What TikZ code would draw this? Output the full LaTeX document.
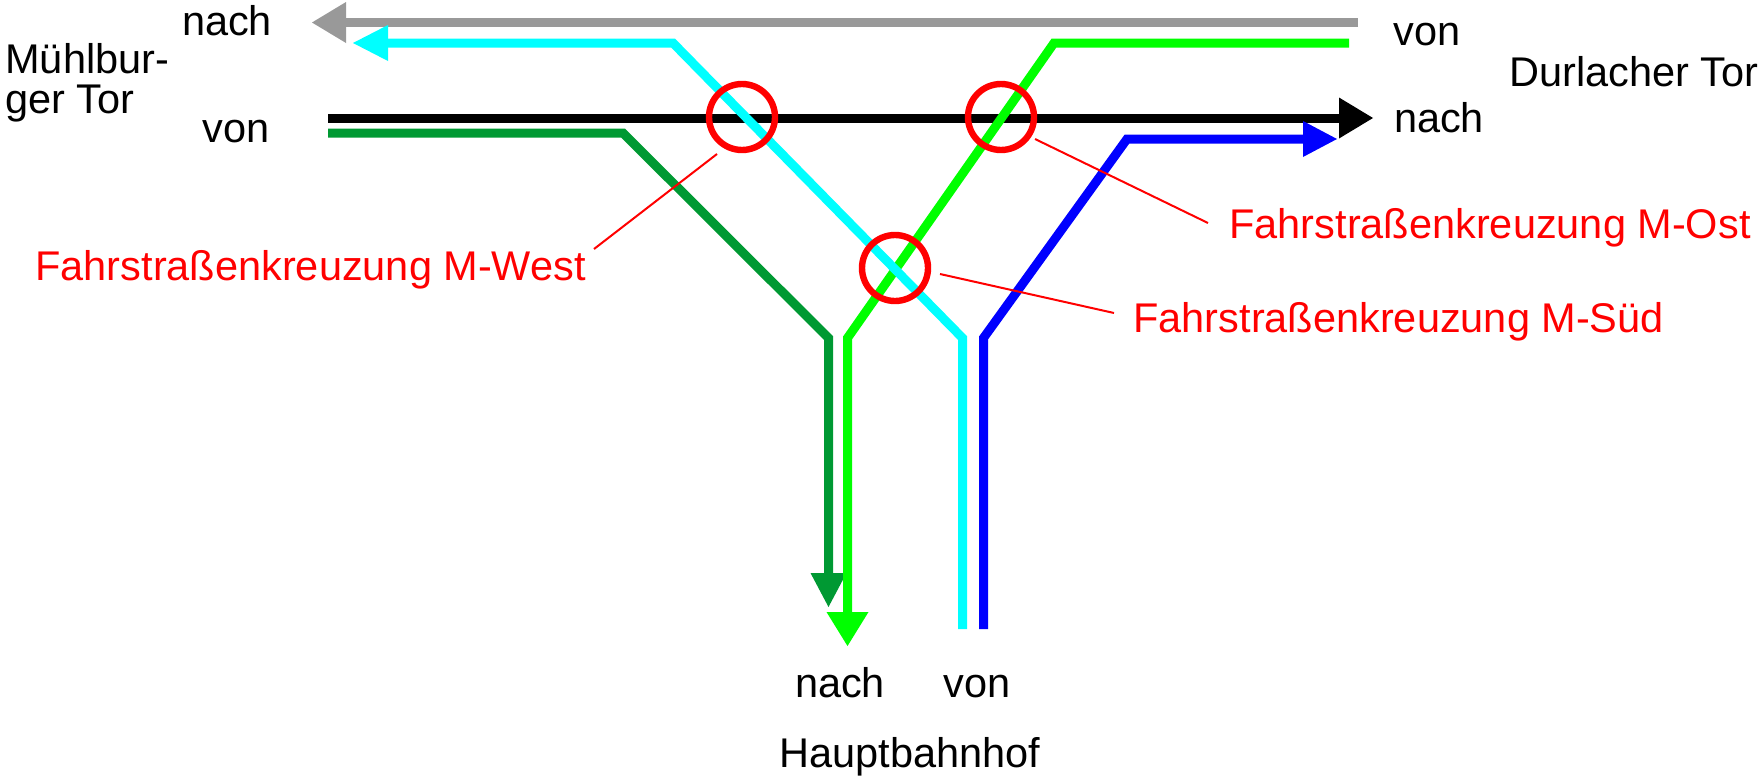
\documentclass[tikz,border=0pt]{standalone}
\usepackage{fontspec}
\setmainfont{Liberation Sans}
\usetikzlibrary{arrows.meta}
\definecolor{cgray}{HTML}{999999}
\definecolor{ccyan}{HTML}{00FFFF}
\definecolor{cgreen}{HTML}{00FF00}
\definecolor{cdgreen}{HTML}{009933}
\definecolor{cblue}{HTML}{0000FF}
\definecolor{cred}{HTML}{FF0000}
\begin{document}
\begin{tikzpicture}[x=0.5pt,y=-0.5pt,
  route/.style={line width=4.5pt, line join=miter},
  lbl/.style={inner sep=0pt, anchor=base, font=\fontsize{20.75pt}{24pt}\selectfont},
  lblw/.style={lbl, anchor=base west},
  redlbl/.style={lblw, text=cred},
  xing/.style={circle, draw=cred, line width=3.2pt, minimum size=33pt, inner sep=0pt},
  leader/.style={draw=cred, line width=1pt}]
\useasboundingbox (0,0) rectangle (1762,777);
% route points
\coordinate (g1) at (1358,22.5);
\coordinate (g2) at (312,22.5);
\coordinate (k1) at (328,118);
\coordinate (k2) at (1373,118);
\coordinate (d1) at (328,133);
\coordinate (d2) at (623,133);
\coordinate (d3) at (828.5,338);
\coordinate (d4) at (828.5,607);
\coordinate (l1) at (1349,43);
\coordinate (l2) at (1054,43);
\coordinate (l3) at (847.5,338);
\coordinate (l4) at (847.5,646);
\coordinate (b1) at (983.5,629);
\coordinate (b2) at (983.5,338);
\coordinate (b3) at (1127,139);
\coordinate (b4) at (1337,139);
\coordinate (c1) at (962.5,629);
\coordinate (c2) at (962.5,338);
\coordinate (c3) at (673,43);
\coordinate (c4) at (353,43);
% routes
\draw[route, cgray, -{Triangle[length=17pt,width=20.5pt,line width=0pt]}] (g1) -- (g2);
\draw[route, black, -{Triangle[length=17pt,width=20.5pt,line width=0pt]}] (k1) -- (k2);
\draw[route, cdgreen, -{Triangle[length=17pt,width=18pt,line width=0pt]}] (d1) -- (d2) -- (d3) -- (d4);
\draw[route, cgreen, -{Triangle[length=17pt,width=21pt,line width=0pt]}] (l1) -- (l2) -- (l3) -- (l4);
\draw[route, cblue, -{Triangle[length=17pt,width=18pt,line width=0pt]}] (b1) -- (b2) -- (b3) -- (b4);
\draw[route, ccyan, -{Triangle[length=17.5pt,width=18pt,line width=0pt]}] (c1) -- (c2) -- (c3) -- (c4);
% crossings
\node[xing] (cw) at (742,117) {};
\node[xing] (co) at (1001,117) {};
\node[xing] (cs) at (895,268) {};
% red labels
\node[redlbl] (lw) at (35,280) {Fahrstraßenkreuzung M-West};
\node[redlbl] (lo) at (1229,238) {Fahrstraßenkreuzung M-Ost};
\node[redlbl] (ls) at (1133,332) {Fahrstraßenkreuzung M-Süd};
\coordinate (wa) at (717,154);
\coordinate (wb) at (594,249);
\coordinate (oa) at (1035,139);
\coordinate (ob) at (1208,223);
\coordinate (sa) at (940,274);
\coordinate (sb) at (1114,313);
\draw[leader] (wa) -- (wb);
\draw[leader] (oa) -- (ob);
\draw[leader] (sa) -- (sb);
% black labels
\node[lbl] (t1) at (227,35) {nach};
\node[lblw] (t2) at (5,73) {Mühlbur-};
\node[lblw] (t3) at (5,113) {ger Tor};
\node[lbl] (t4) at (236,142) {von};
\node[lbl] (t5) at (1427,45) {von};
\node[lbl] (t6) at (1634,86) {Durlacher Tor};
\node[lbl] (t7) at (1439,132) {nach};
\node[lbl] (t8) at (840,697) {nach};
\node[lbl] (t9) at (977,697) {von};
\node[lbl] (t10) at (910,767) {Hauptbahnhof};
\end{tikzpicture}
\end{document}
